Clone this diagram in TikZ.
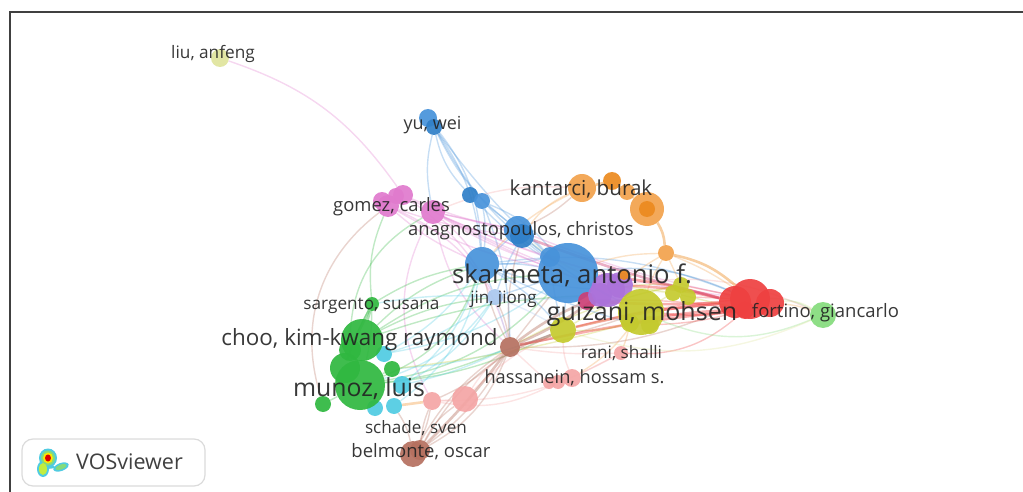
\documentclass[tikz,border=0pt]{standalone}
\usepackage{fontspec}
\setmainfont{Open Sans}
\usetikzlibrary{backgrounds}
\definecolor{cBlue}{HTML}{4792DA}
\definecolor{cBlueD}{HTML}{2F7FC8}
\definecolor{cLBlue}{HTML}{A9C8EF}
\definecolor{cPurple}{HTML}{AB72DA}
\definecolor{cCrim}{HTML}{CC3F75}
\definecolor{cOlive}{HTML}{C4CA2E}
\definecolor{cRed}{HTML}{EE4040}
\definecolor{cLGreen}{HTML}{84DB7C}
\definecolor{cOrange}{HTML}{F2A24C}
\definecolor{cOrangeD}{HTML}{EC8A1E}
\definecolor{cPink}{HTML}{E07ACD}
\definecolor{cGreen}{HTML}{2FB73F}
\definecolor{cCyan}{HTML}{4FCBE2}
\definecolor{cSalmon}{HTML}{F4A5A5}
\definecolor{cBrown}{HTML}{B5705F}
\definecolor{cLiu}{HTML}{DFE49C}
\definecolor{cText}{HTML}{222222}
\tikzset{
  bub/.style={circle,draw=none,inner sep=0pt,fill opacity=.92},
  lnk/.style={line width=1.4pt,draw opacity=.3},
  lnkT/.style={line width=2.6pt,draw opacity=.42},
  lab/.style={text=cText,inner sep=0pt,text opacity=.9,anchor=center},
}
\begin{document}
\begin{tikzpicture}[x=1pt,y=-1pt]
\useasboundingbox (0,0) rectangle (1023,492);
% bubbles
\foreach \n/\x/\y/\rr/\c in {
 liuA/220/58/9/cLiu,
 yuA/428/118/9/cBlue, yuB/434/127/8/cBlueD,
 smA/470/195/8/cBlueD, smB/482/201/8/cBlue,
 anaA/518/230/14/cBlue, anaB/522/236/12/cBlueD,
 bigA/482/264/17/cBlue, skaA/550/257/10/cBlue, skaB/568/273/30/cBlue,
 jin/495/297/8/cLBlue,
 crim/587/301/9/cCrim,
 purA/608/290/17/cPurple, purB/600/295/12/cPurple, purC/620/285/13/cPurple,
 guiA/641/312/23/cOlive, guiB/650/325/9/cOlive, guiC/630/323/9/cOlive,
 olv/563/330/13/cOlive,
 olA/681/285/8/cOlive, olB/673/293/8/cOlive, olC/688/297/8/cOlive,
 redD/735/302/16/cRed, redA/750/299/20/cRed, redB/770/303/14/cRed, redC/745/310/9/cRed,
 fortA/823/315/13/cLGreen,
 orA/582/188/14/cOrange, orB/612/181/9/cOrangeD, orC/627/192/8/cOrange,
 orD/647/209/17/cOrange, orE/647/209/8/cOrangeD, orF/666/253/8/cOrange, orG/624/275/5/cOrangeD,
 pnD/382/201/9/cPink, pnA/388/206/11/cPink, pnE/396/196/8/cPink, pnB/403/195/10/cPink, pnC/433/212/12/cPink,
 sar/372/304/7/cGreen,
 cyA/384/354/8/cCyan, cyB/402/385/9/cCyan, cyC/375/408/8/cCyan, cyD/394/406/8/cCyan,
 chooA/362/340/21/cGreen, chooB/350/350/11/cGreen,
 munA/360/385/25/cGreen, munB/345/368/15/cGreen,
 grA/323/404/8/cGreen, grB/392/369/8/cGreen,
 saA/432/401/9/cSalmon, saB/465/399/13/cSalmon,
 brA/510/347/10/cBrown, brB/413/454/13/cBrown, brC/420/450/10/cBrown,
 rani/621/353/7/cSalmon,
 haA/572/378/9/cSalmon, haB/558/382/7/cSalmon, haC/549/383/6/cSalmon}
 {\node[bub,fill=\c,minimum size=2*\rr pt] (\n) at (\x,\y) {};}
% links
\begin{scope}[on background layer]
\foreach \a/\b/\c/\bb in {
 liuA/pnB/cPink/18, pnB/jin/cPink/12,
 yuB/smA/cBlue/-15, yuB/bigA/cBlue/14, yuA/bigA/cBlue/18, yuB/anaA/cBlue/-12, yuB/skaB/cBlue/-12, yuB/pnC/cBlue/-12, yuB/skaA/cBlue/-5,
 smB/anaA/cBlue/0, smB/bigA/cBlue/8, smA/skaB/cBlue/-6, smB/skaB/cBlue/14, smB/brA/cBlue/10,
 anaA/bigA/cBlue/0, anaB/skaB/cBlue/0, anaA/skaA/cBlue/8, bigA/skaB/cBlue/6, bigA/skaA/cBlue/-6, bigA/purA/cBlue/-8, jin/skaB/cBlue/0, jin/anaB/cBlue/5, jin/bigA/cBlue/0, bigA/redA/cBlue/14, skaB/redA/cBlueD/14,
 pnA/bigA/cPink/-8, pnC/skaB/cPink/-6, pnA/skaB/cPink/-8, pnB/skaB/cPink/-3, pnC/anaA/cPink/0, pnC/bigA/cPink/6, pnA/anaB/cPink/-6, pnB/anaA/cPink/-6, pnC/redA/cPink/-8, pnC/purA/cPink/-4, pnA/brA/cPink/25, pnC/brA/cPink/-18, pnC/saA/cPink/-28, pnC/skaA/cPink/-3, pnC/anaB/cPink/3, anaA/redA/cPink/-5,
 pnA/grA/cBrown/-35, pnA/sar/cGreen/-14, pnC/chooB/cGreen/-30,
 sar/munA/cGreen/6, chooA/munA/cGreen/0, chooB/munB/cGreen/0, munA/grA/cGreen/0, munA/grB/cGreen/0, sar/munB/cGreen/-6,
 chooA/bigA/cGreen/12, chooA/jin/cGreen/10, chooA/skaB/cGreen/14, munA/bigA/cGreen/-24, munA/skaB/cGreen/-18, munA/jin/cCyan/-18, sar/bigA/cGreen/10, sar/jin/cCyan/6, chooA/purB/cGreen/8, munA/olv/cGreen/-10, munA/brA/cGreen/-8,
 cyA/bigA/cCyan/-12, cyB/bigA/cCyan/-15, cyB/jin/cCyan/-14, cyA/skaB/cCyan/-12, cyB/brA/cCyan/-6, cyD/bigA/cCyan/-20, cyA/jin/cCyan/-10, grB/olv/cCyan/-8,
 brA/brB/cBrown/-12, brA/brC/cBrown/12, brA/brB/cBrown/20, brA/saA/cBrown/10, brA/skaB/cBrown/0, brA/bigA/cBrown/8, brA/jin/cBrown/-8, brA/redA/cBrown/-12, brA/guiA/cBrown/-4, brC/saB/cBrown/14, brC/olv/cBrown/20, brB/cyD/cBrown/-10, brA/anaB/cBrown/10, saA/brB/cBrown/8, saA/brC/cBrown/-8,
 saA/saB/cSalmon/0, saB/brA/cSalmon/8, saB/olv/cSalmon/10, saA/haB/cSalmon/-18, saA/rani/cSalmon/-14, haA/rani/cSalmon/0, haA/guiA/cOrange/-10, rani/guiC/cOrange/-4, rani/redC/cRed/-22, haC/brA/cSalmon/0, haA/olv/cSalmon/10, brA/rani/cSalmon/-5,
 guiB/redC/cRed/-6, olv/redA/cRed/5, olv/guiA/cOlive/0, olv/guiC/cOlive/-8, crim/redC/cRed/5, olA/redA/cRed/0, olC/redA/cRed/0, olB/guiA/cOlive/0, olA/olC/cOlive/0, olB/redC/cOlive/0, purA/olA/cOlive/6, purC/olB/cOlive/0,
 guiA/fortA/cLGreen/-22, olv/fortA/cLiu/-20, redA/fortA/cLGreen/14, redB/fortA/cOrange/8, redB/fortA/cLiu/18, purC/fortA/cSalmon/16,
 olv/olA/cOlive/10, brA/olA/cOlive/8, grB/guiC/cOlive/-4,
 orF/skaB/cOrange/-8, orF/guiA/cOrange/-6, orF/purC/cOrange/-4, orF/redA/cOrange/6, orF/olA/cOrange/0,
 orA/anaA/cBrown/8, orA/anaB/cOrange/-15, orA/pnC/cSalmon/-12, orA/bigA/cOrange/-10, anaB/olB/cLiu/-16,
 bigA/guiC/cBlue/-5, skaA/olv/cBlue/-4, skaB/olv/cBlue/0, anaB/guiA/cBlue/-6, bigA/olv/cBlue/8, jin/olv/cLBlue/4, jin/purB/cLBlue/-5, jin/brA/cLBlue/0}
 {\draw[lnk,draw=\c] (\a) to[bend left=\bb] (\b);}
\foreach \a/\b/\c/\bb in {
 sar/chooA/cGreen/0, sar/chooB/cGreen/0, orD/orC/cOrangeD/0, orC/orB/cOrangeD/0, orB/orA/cOrangeD/0, orD/orF/cOrangeD/14, orF/redA/cOrangeD/14,
 saA/cyD/cOrange/0, brA/olv/cBrown/-5, brA/crim/cBrown/6, brA/purB/cBrown/-6,
 guiA/redD/cRed/0, guiA/redC/cRed/-6, guiC/redC/cRed/5, purC/redD/cRed/5, olv/redD/cRed/4, crim/redD/cRed/-3, brA/redC/cRed/3, skaB/redD/cRed/5, anaB/redD/cCrim/-3,
 brA/brC/cBrown/4}
 {\draw[lnkT,draw=\c] (\a) to[bend left=\bb] (\b);}
\end{scope}
% frame
\draw[line width=1.4pt,draw=black!75] (10,492) -- (10,12) -- (1023,12);
% labels
\foreach \n/\x/\y/\s/\t in {
 lLiu/213/53.5/17.2/{liu, anfeng},
 lYu/432.5/125.5/18/{yu, wei},
 lKan/581/189.5/20.6/{kantarci, burak},
 lGom/391.5/206.5/18.4/{gomez, carles},
 lAna/521/230.5/18.4/{anagnostopoulos, christos},
 lSka/572/275/25.7/{skarmeta, antonio f.},
 lSar/371.5/305.5/17.2/{sargento, susana},
 lJin/503.5/299.5/17/{jin, jiong},
 lGui/642/314/25/{guizani, mohsen},
 lFor/825.5/312.5/18.5/{fortino, giancarlo},
 lCho/359.5/340/22.4/{choo, kim-kwang raymond},
 lRan/621.5/353.5/17.2/{rani, shalli},
 lHas/574.5/377.5/18.2/{hassanein, hossam s.},
 lMun/359/389/24.8/{munoz, luis},
 lSch/416/428.5/17.1/{schade, sven},
 lBel/421/451.5/18.5/{belmonte, oscar}}
 {\node[lab,font=\fontsize{\s}{\s}\selectfont] (\n) at (\x,\y) {\t};}
% VOSviewer logo
\node[draw=black!14,line width=1.2pt,rounded corners=11pt,fill=white,minimum width=183pt,minimum height=47pt,inner sep=0pt] (logoBox) at (113.5,462.5) {};
\node[text=black!75,inner sep=0pt,font=\fontsize{21.5}{21.5}\selectfont] (logoText) at (129.5,462) {VOSviewer};
\begin{scope}
\fill[cCyan] (48,458) ellipse (9pt and 9.5pt);
\fill[cCyan] (43,469) ellipse (6pt and 8pt);
\fill[cCyan,rotate around={20:(61,467)}] (61,467) ellipse (8pt and 4pt);
\fill[cCyan] (50,462) -- (44,464) -- (47,469) -- (56,468) -- cycle;
\fill[cLGreen] (48,458) ellipse (7pt and 7.5pt);
\fill[cLGreen!50!yellow] (43,469) ellipse (4pt and 6pt);
\fill[cLGreen,rotate around={20:(61,467)}] (61,467) ellipse (6pt and 2.4pt);
\fill[yellow!90!orange] (48,458) ellipse (5pt and 5.5pt);
\fill[red!85!black] (48,458) ellipse (3pt and 3.5pt);
\end{scope}
\end{tikzpicture}
\end{document}
